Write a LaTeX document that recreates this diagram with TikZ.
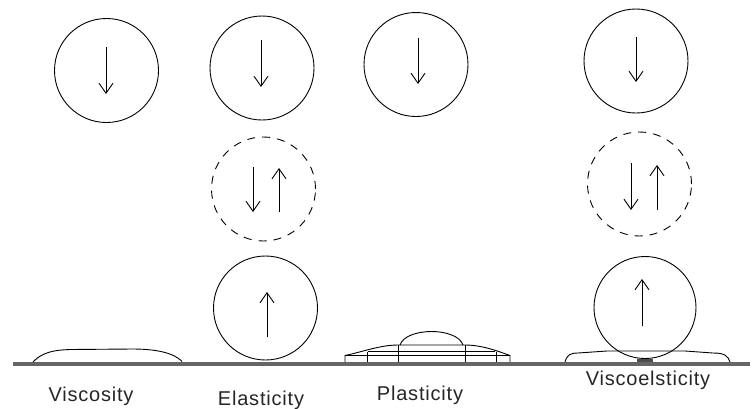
\documentclass[tikz,border=0pt]{standalone}
\usepackage{fontspec}
\setmainfont{Liberation Sans}[LetterSpace=4]
\usetikzlibrary{arrows.meta}
\begin{document}
\begin{tikzpicture}[x=1pt,y=-1pt,
  ball/.style={circle,draw=black,line width=0.9pt,inner sep=0pt,minimum size=104pt},
  dball/.style={ball,dash pattern=on 8pt off 7pt},
  arr/.style={line width=0.9pt,-{Straight Barb[length=10pt,width=14pt,line width=0.9pt]}},
  flow/.style={line width=0.9pt},
  lbl/.style={font=\fontsize{20}{22}\selectfont,anchor=base,inner sep=0pt,text=black!85}]
\useasboundingbox (0,0) rectangle (754,408);
% ground
\fill[black!60] (13,361.5) rectangle (750,365.5);
% Viscosity
\node[ball] (c1) at (106.5,70.5) {};
\draw[arr] (106,47) -- (106,94);
\draw[flow] (33,362) .. controls (42,352) and (55,350) .. (70,349.5) -- (132,349) .. controls (150,349) and (172,351) .. (182,361.5);
\node[lbl] (t1) at (91,401) {Viscosity};
% Elasticity
\node[ball] (c2) at (262,68) {};
\draw[arr] (261,40) -- (261,87);
\node[dball] (d2) at (263.5,189) {};
\draw[arr] (253,167) -- (253,212);
\draw[arr] (279,212) -- (279,168);
\node[ball] (b2) at (265.5,308) {};
\draw[arr] (267,337) -- (267,292);
\node[lbl] (t2) at (261,405) {Elasticity};
% Plasticity
\node[ball] (c3) at (416,64.5) {};
\draw[arr] (418,38) -- (418,84);
\draw[flow] (400,345) .. controls (406,327) and (457,327) .. (463,345);
\draw[flow] (345,362) -- (345,355.5) .. controls (362,352) and (380,345) .. (398,345) -- (465,345) .. controls (483,345) and (500,352) .. (510,355.5) -- (510,362);
\draw[flow] (368,351.5) -- (495,351.5);
\draw[flow] (345,355.5) -- (510,355.5);
\draw[flow] (367,351.5) -- (367,362);
\draw[flow] (398,345) -- (398,362);
\draw[flow] (465,345) -- (465,362);
\draw[flow] (496,351.5) -- (496,362);
\node[lbl] (t3) at (420,400) {Plasticity};
% Viscoelasticity
\node[ball] (c4) at (636,61) {};
\draw[arr] (636,37) -- (636,82);
\node[dball] (d4) at (639.5,184) {};
\draw[arr] (631,163) -- (631,210);
\draw[arr] (657,210) -- (657,165);
\node[ball,minimum size=102pt] (b4) at (645,307.5) {};
\draw[arr] (642,326) -- (642,279);
\draw[flow] (565,362) .. controls (567,355) and (570,353) .. (578,353) -- (607,351) -- (685,351) -- (713,353) .. controls (725,353) and (728,356) .. (730,362);
\fill[black!70] (637,358.5) rectangle (653,362);
\node[lbl] (t4) at (648,385) {Viscoelsticity};
\end{tikzpicture}
\end{document}
